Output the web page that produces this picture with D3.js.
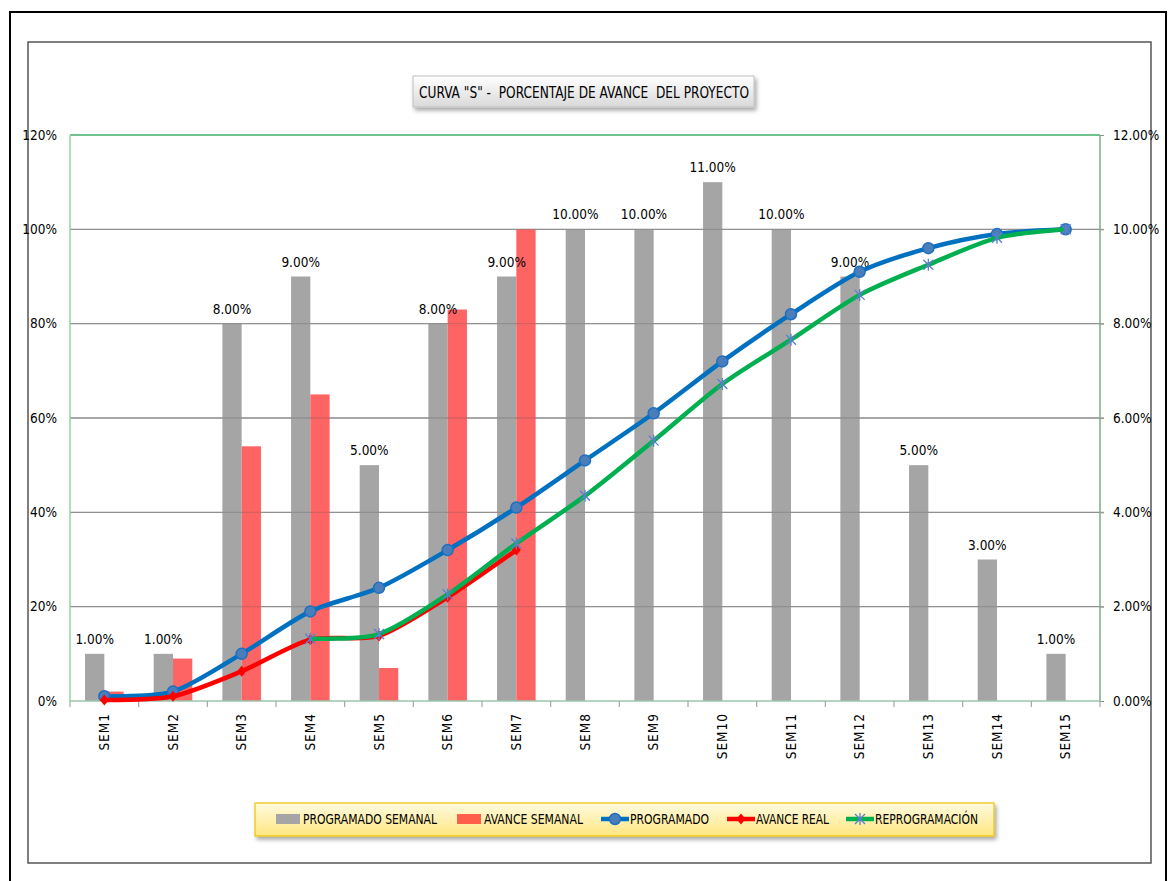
<!DOCTYPE html>
<html>
<head>
<meta charset="utf-8">
<script src="https://cdn.jsdelivr.net/npm/d3@7"></script>
<style>
  html, body { margin: 0; padding: 0; background: #fff; }
  svg text { font-family: "Liberation Sans Narrow", "DejaVu Sans Condensed", "Roboto Condensed", sans-serif; fill: #000; }
</style>
</head>
<body>
<div id="chart"></div>
<script>
// Curva S - porcentaje de avance del proyecto
var categories = ['SEM1', 'SEM2', 'SEM3', 'SEM4', 'SEM5', 'SEM6', 'SEM7', 'SEM8',
  'SEM9', 'SEM10', 'SEM11', 'SEM12', 'SEM13', 'SEM14', 'SEM15'];

// weekly values (right axis, %)
var programadoSemanal = [1, 1, 8, 9, 5, 8, 9, 10, 10, 11, 10, 9, 5, 3, 1];
var avanceSemanal = [0.2, 0.9, 5.4, 6.5, 0.7, 8.3, 10];

// cumulative values (left axis, %)
var programado = [1, 2, 10, 19, 24, 32, 41, 51, 61, 72, 82, 91, 96, 99, 100];
var avanceReal = [0.2, 1.0, 6.3, 13, 13.8, 22, 32];
var reprogramacion = [null, null, null, 13.2, 14.2, 22.6, 33.4, 43.5, 55.2, 67.2, 76.6, 86.1, 92.5, 98.2, 100];

var leftTicks = [0, 20, 40, 60, 80, 100, 120];
var rightTicks = [0, 2, 4, 6, 8, 10, 12];

var W = 1169, H = 881;
var plot = { left: 70, right: 1100, top: 135, bottom: 701 };

var svg = d3.select('#chart').append('svg')
  .attr('width', W)
  .attr('height', H);

var defs = svg.append('defs');
var shadow = defs.append('filter').attr('id', 'shadow')
  .attr('x', '-5%').attr('y', '-30%').attr('width', '110%').attr('height', '170%');
shadow.append('feDropShadow')
  .attr('dx', 2).attr('dy', 3).attr('stdDeviation', 2)
  .attr('flood-color', '#000').attr('flood-opacity', 0.35);

var titleGrad = defs.append('linearGradient').attr('id', 'titleGrad')
  .attr('x1', 0).attr('y1', 0).attr('x2', 0).attr('y2', 1);
titleGrad.append('stop').attr('offset', '0%').attr('stop-color', '#ffffff');
titleGrad.append('stop').attr('offset', '100%').attr('stop-color', '#d9d9d9');

var legendGrad = defs.append('linearGradient').attr('id', 'legendGrad')
  .attr('x1', 0).attr('y1', 0).attr('x2', 0).attr('y2', 1);
legendGrad.append('stop').attr('offset', '0%').attr('stop-color', '#fffbe0');
legendGrad.append('stop').attr('offset', '100%').attr('stop-color', '#ffe680');

// frames
svg.append('rect')
  .attr('x', 10).attr('y', 12).attr('width', 1156).attr('height', 900)
  .attr('fill', 'none').attr('stroke', '#000').attr('stroke-width', 2);
svg.append('rect')
  .attr('x', 28).attr('y', 42).attr('width', 1123).attr('height', 821)
  .attr('fill', 'none').attr('stroke', '#555').attr('stroke-width', 1.5);

// scales
var x = d3.scaleBand()
  .domain(categories)
  .range([plot.left, plot.right])
  .paddingInner(0.438)
  .paddingOuter(0.219);

var xSub = d3.scaleBand()
  .domain(['prog', 'avance'])
  .range([0, x.bandwidth()]);

var yL = d3.scaleLinear().domain([0, 120]).range([plot.bottom, plot.top]);
var yR = d3.scaleLinear().domain([0, 12]).range([plot.bottom, plot.top]);

function cx(i) { return x(categories[i]) + x.bandwidth() / 2; }

// gridlines under bars
var grid = svg.append('g');
grid.selectAll('line')
  .data(leftTicks.filter(function(d) { return d > 0 && d < 120; }))
  .enter().append('line')
  .attr('x1', plot.left).attr('x2', plot.right + 4)
  .attr('y1', function(d) { return yL(d); })
  .attr('y2', function(d) { return yL(d); })
  .attr('stroke', '#a6a6a6').attr('stroke-width', 1.3);

// bars
var bars = svg.append('g');
bars.selectAll('.prog')
  .data(programadoSemanal)
  .enter().append('rect')
  .attr('class', 'prog')
  .attr('x', function(d, i) { return x(categories[i]) + xSub('prog'); })
  .attr('y', function(d) { return yR(d); })
  .attr('width', xSub.bandwidth())
  .attr('height', function(d) { return yR(0) - yR(d); })
  .attr('fill', '#a5a5a5');

bars.selectAll('.avance')
  .data(avanceSemanal)
  .enter().append('rect')
  .attr('class', 'avance')
  .attr('x', function(d, i) { return x(categories[i]) + xSub('avance'); })
  .attr('y', function(d) { return yR(d); })
  .attr('width', xSub.bandwidth())
  .attr('height', function(d) { return yR(0) - yR(d); })
  .attr('fill', '#ff6464');

// gridlines faintly over bars
svg.append('g').selectAll('line')
  .data(leftTicks.filter(function(d) { return d > 0 && d < 120; }))
  .enter().append('line')
  .attr('x1', plot.left).attr('x2', plot.right)
  .attr('y1', function(d) { return yL(d); })
  .attr('y2', function(d) { return yL(d); })
  .attr('stroke', '#555').attr('stroke-opacity', 0.25).attr('stroke-width', 1.3);

// data labels
svg.append('g').selectAll('text')
  .data(programadoSemanal)
  .enter().append('text')
  .attr('x', function(d, i) { return x(categories[i]) + xSub('prog') + xSub.bandwidth() / 2; })
  .attr('y', function(d) { return yR(d) - 10; })
  .attr('text-anchor', 'middle')
  .attr('font-size', 13.5)
  .text(function(d) { return d3.format('.2f')(d) + '%'; });

// plot border lines
svg.append('line').attr('x1', plot.left).attr('x2', plot.right).attr('y1', plot.top).attr('y2', plot.top)
  .attr('stroke', '#3fae68').attr('stroke-width', 1.5);
svg.append('line').attr('x1', plot.left).attr('x2', plot.left).attr('y1', plot.top).attr('y2', plot.bottom)
  .attr('stroke', '#8fd3a4').attr('stroke-width', 1.5);
svg.append('line').attr('x1', plot.right).attr('x2', plot.right).attr('y1', plot.top).attr('y2', plot.bottom)
  .attr('stroke', '#7ea890').attr('stroke-width', 1.5);
svg.append('line').attr('x1', plot.left).attr('x2', plot.right).attr('y1', plot.bottom).attr('y2', plot.bottom)
  .attr('stroke', '#9cc4ad').attr('stroke-width', 1.5);

// x tick marks at band boundaries
svg.append('g').selectAll('line')
  .data(d3.range(categories.length + 1))
  .enter().append('line')
  .attr('x1', function(i) { return i < categories.length ? x(categories[i]) - x.step() * x.paddingInner() / 2 : plot.right; })
  .attr('x2', function(i) { return i < categories.length ? x(categories[i]) - x.step() * x.paddingInner() / 2 : plot.right; })
  .attr('y1', plot.bottom).attr('y2', plot.bottom + 6)
  .attr('stroke', '#9aaea2').attr('stroke-width', 1.2);

// axes
var leftAxis = svg.append('g')
  .attr('transform', 'translate(' + plot.left + ',0)')
  .call(d3.axisLeft(yL).tickValues(leftTicks).tickSize(0).tickPadding(13)
    .tickFormat(function(d) { return d + '%'; }));
leftAxis.select('.domain').remove();
leftAxis.selectAll('text').attr('font-size', 13.5).style('font-family', null);

var rightAxis = svg.append('g')
  .attr('transform', 'translate(' + plot.right + ',0)')
  .call(d3.axisRight(yR).tickValues(rightTicks).tickSize(4).tickPadding(9)
    .tickFormat(function(d) { return d3.format('.2f')(d) + '%'; }));
rightAxis.select('.domain').remove();
rightAxis.selectAll('line').attr('stroke', '#8a9a90');
rightAxis.selectAll('text').attr('font-size', 13.5).style('font-family', null);

var bottomAxis = svg.append('g')
  .attr('transform', 'translate(0,' + plot.bottom + ')')
  .call(d3.axisBottom(x).tickSize(0));
bottomAxis.select('.domain').remove();
bottomAxis.selectAll('text')
  .attr('transform', 'rotate(-90)')
  .attr('x', -12)
  .attr('y', 0)
  .attr('dy', '0.35em')
  .attr('text-anchor', 'end')
  .attr('font-size', 13.5)
  .attr('letter-spacing', 1)
  .style('font-family', null);

// lines
var curve = d3.curveCardinal.tension(0.2);

function drawSeries(values, color, marker) {
  var pts = values.map(function(v, i) { return { i: i, v: v }; })
    .filter(function(d) { return d.v != null; });
  var line = d3.line()
    .x(function(d) { return cx(d.i); })
    .y(function(d) { return yL(d.v); })
    .curve(curve);
  var g = svg.append('g');
  g.append('path')
    .datum(pts)
    .attr('d', line)
    .attr('fill', 'none')
    .attr('stroke', color)
    .attr('stroke-width', 4.5)
    .attr('stroke-linejoin', 'round');
  g.selectAll('.m')
    .data(pts)
    .enter().append('g')
    .attr('class', 'm')
    .attr('transform', function(d) { return 'translate(' + cx(d.i) + ',' + yL(d.v) + ')'; })
    .each(function() { marker(d3.select(this)); });
}

function circleMarker(sel) {
  sel.append('circle').attr('r', 5.5).attr('fill', '#4a7ebb').attr('stroke', '#1f6fc0').attr('stroke-width', 1.5);
}
function diamondMarker(sel) {
  sel.append('path').attr('d', 'M0,-5.5L4.5,0L0,5.5L-4.5,0Z').attr('fill', '#ff0000');
}
function starMarker(sel) {
  sel.append('path').attr('d', 'M-5,-5L5,5M-5,5L5,-5M0,-6L0,6')
    .attr('stroke', '#5b7fd0').attr('stroke-width', 1.3).attr('fill', 'none');
}

drawSeries(programado, '#0070c0', circleMarker);
drawSeries(avanceReal, '#ff0000', diamondMarker);
drawSeries(reprogramacion, '#00b050', starMarker);

// title
var title = svg.append('g');
title.append('rect')
  .attr('x', 413).attr('y', 76).attr('width', 341).attr('height', 31)
  .attr('fill', 'url(#titleGrad)').attr('stroke', '#c0c0c0').attr('stroke-width', 1)
  .attr('filter', 'url(#shadow)');
title.append('text')
  .attr('x', 584).attr('y', 98)
  .attr('text-anchor', 'middle')
  .attr('font-size', 16.5)
  .attr('textLength', 330)
  .attr('lengthAdjust', 'spacingAndGlyphs')
  .style('white-space', 'pre')
  .text('CURVA "S" -  PORCENTAJE DE AVANCE  DEL PROYECTO');

// legend
var legendItems = ['PROGRAMADO SEMANAL', 'AVANCE SEMANAL', 'PROGRAMADO', 'AVANCE REAL', 'REPROGRAMACIÓN'];
var legendX = [276, 457, 601, 727, 846];
var legendTextW = [134, 99, 79, 73, 103];

var legend = svg.append('g');
legend.append('rect')
  .attr('x', 255).attr('y', 803).attr('width', 739).attr('height', 33)
  .attr('fill', 'url(#legendGrad)').attr('stroke', '#f2c200').attr('stroke-width', 1.2)
  .attr('filter', 'url(#shadow)');

legendItems.forEach(function(name, k) {
  var lx = legendX[k], ly = 819;
  var tx;
  if (k < 2) {
    legend.append('rect').attr('x', lx).attr('y', ly - 5).attr('width', 24).attr('height', 10)
      .attr('fill', k === 0 ? '#a5a5a5' : '#ff5e4a');
    tx = lx + 27;
  } else {
    var color = ['#0070c0', '#ff0000', '#00b050'][k - 2];
    legend.append('line').attr('x1', lx).attr('x2', lx + 28).attr('y1', ly).attr('y2', ly)
      .attr('stroke', color).attr('stroke-width', 4.5);
    var m = legend.append('g').attr('transform', 'translate(' + (lx + 14) + ',' + ly + ')');
    [circleMarker, diamondMarker, starMarker][k - 2](m);
    tx = lx + 29;
  }
  legend.append('text')
    .attr('x', tx).attr('y', ly + 5)
    .attr('font-size', 13.5)
    .attr('textLength', legendTextW[k])
    .attr('lengthAdjust', 'spacingAndGlyphs')
    .text(name);
});
</script>
</body>
</html>
